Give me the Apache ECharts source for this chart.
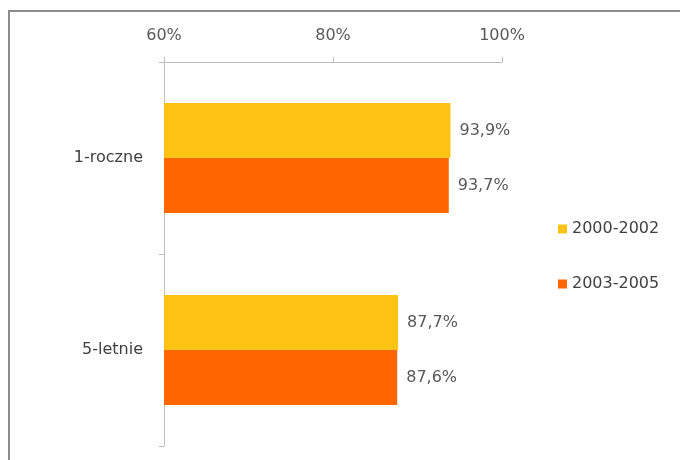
<!DOCTYPE html>
<html>
<head>
<meta charset="utf-8">
<script src="https://cdn.jsdelivr.net/npm/echarts@6/dist/echarts.min.js"></script>
<style>
html,body{margin:0;padding:0;background:#fff;}
#chart{width:680px;height:460px;}
</style>
</head>
<body>
<div id="chart"></div>
<script>
var categories = ['1-roczne', '5-letnie'];
var seriesNames = ['2000-2002', '2003-2005'];
var values2000 = [93.9, 87.7];
var values2003 = [93.7, 87.6];
var colors = ['#FCC314', '#FF6600'];

var FONT = 'DejaVu Sans';
var FS = 16;
var chart = echarts.init(document.getElementById('chart'));
function fmt(p){ return p.value.toFixed(1).replace('.', ',') + '%'; }
chart.setOption({
  animation: false,
  backgroundColor: '#fff',
  textStyle: {fontFamily: FONT},
  graphic: [
    {type: 'line', shape: {x1: 8, y1: 11, x2: 680, y2: 11}, style: {stroke: '#8c8c8c', lineWidth: 2}},
    {type: 'line', shape: {x1: 9, y1: 10, x2: 9, y2: 460}, style: {stroke: '#8c8c8c', lineWidth: 2}}
  ],
  grid: {left: 164, right: 178, top: 62, bottom: 14},
  legend: {
    orient: 'vertical', left: 553, top: 215,
    itemWidth: 9, itemHeight: 9, itemGap: 37,
    icon: 'rect',
    data: seriesNames,
    textStyle: {fontFamily: FONT, fontSize: FS, lineHeight: 18, color: '#404040', padding: [0,0,0,0]}
  },
  xAxis: {
    type: 'value', position: 'top', min: 60, max: 100, interval: 20,
    axisLine: {show: true, lineStyle: {color: '#bfbfbf'}},
    axisTick: {show: true, length: 5, lineStyle: {color: '#bfbfbf'}},
    splitLine: {show: false},
    axisLabel: {formatter: '{value}%', color: '#595959', fontSize: FS, fontFamily: FONT, margin: 18}
  },
  yAxis: {
    type: 'category', inverse: true, data: categories,
    axisLine: {show: true, lineStyle: {color: '#bfbfbf'}},
    axisTick: {show: true, length: 5, lineStyle: {color: '#bfbfbf'}},
    axisLabel: {color: '#404040', fontSize: FS, fontFamily: FONT, margin: 21}
  },
  series: [
    {name: seriesNames[0], type: 'bar', data: values2000, barWidth: 55, barGap: '0%',
     itemStyle: {color: colors[0]},
     label: {show: true, position: 'right', distance: 9, formatter: fmt, color: '#595959', fontSize: FS, fontFamily: FONT}},
    {name: seriesNames[1], type: 'bar', data: values2003, barWidth: 55, barGap: '0%',
     itemStyle: {color: colors[1]},
     label: {show: true, position: 'right', distance: 9, formatter: fmt, color: '#595959', fontSize: FS, fontFamily: FONT}}
  ]
});
</script>
</body>
</html>
